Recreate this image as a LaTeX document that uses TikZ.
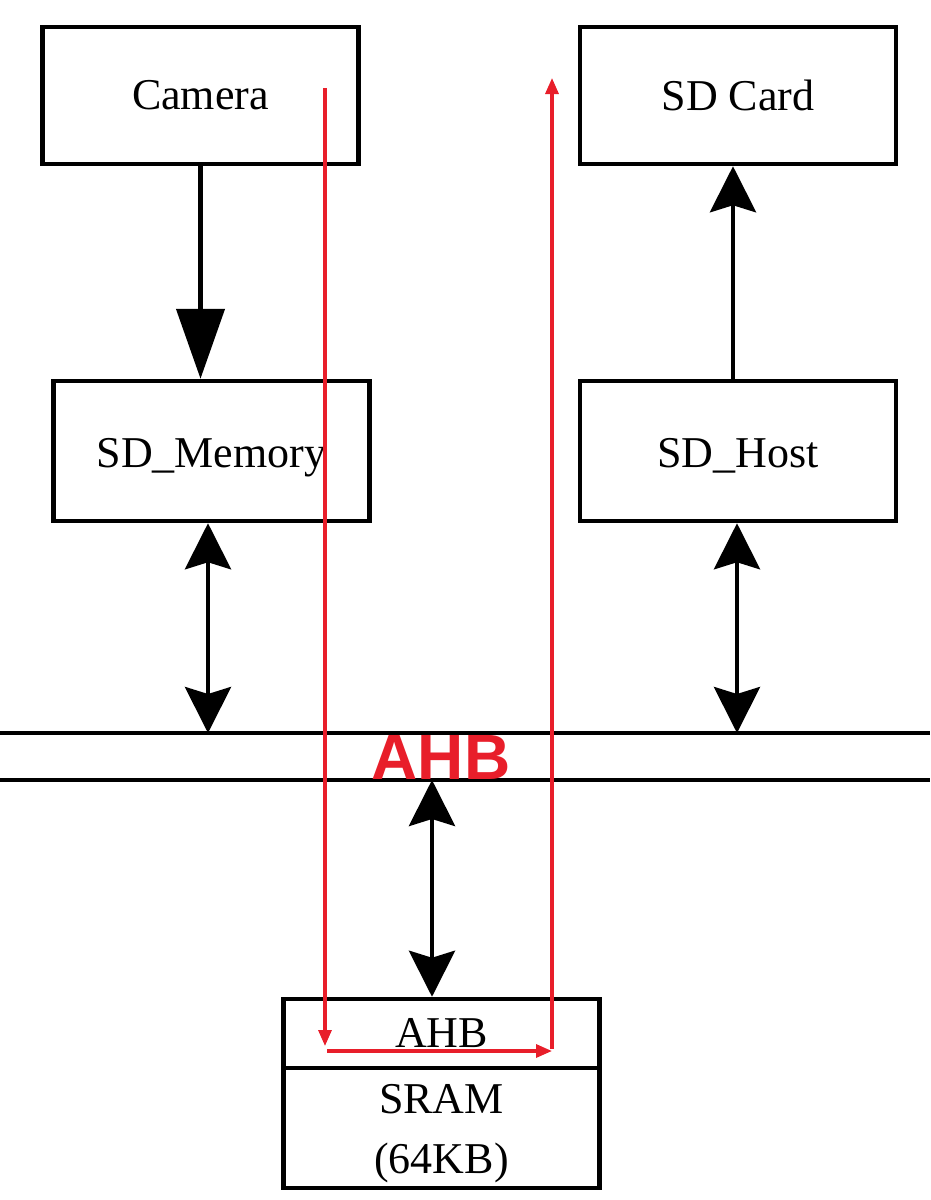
\documentclass[tikz,border=0pt]{standalone}
\usepackage{fontspec}
\setmainfont{Liberation Serif}
\newfontfamily\ahbfont{Liberation Sans}
\usetikzlibrary{arrows.meta}
\definecolor{ahbred}{RGB}{232,30,42}
\tikzset{
  blk/.style={draw=black, line width=4.5pt, minimum width=316pt, inner sep=0pt,
    font=\fontsize{44}{60}\selectfont, align=center},
  lbl/.style={inner sep=0pt, font=\fontsize{44}{60}\selectfont, align=center},
  conn/.style={line width=4.5pt, draw=black},
  bighead/.style={-{Triangle[length=70pt,width=48pt]}},
  headtip/.tip={Stealth[length=46pt,width=46pt,inset=7pt]},
  redpath/.style={draw=ahbred, line width=3.2pt, -{Triangle[length=16pt,width=13pt]}},
  busline/.style={line width=4.5pt, draw=black},
}
\begin{document}
\begin{tikzpicture}[x=1pt,y=-1pt]
\useasboundingbox (0,0) rectangle (930,1200);
% boxes
\node[blk, minimum height=137pt] (cam) at (200.5,95.5) {Camera};
\node[blk, minimum height=137pt] (sdc) at (738,95.5) {SD Card};
\node[blk, minimum height=140pt, text height=42pt, text depth=10pt] (sdm) at (211.5,451) {SD\_Memory};
\node[blk, minimum height=140pt, text height=42pt, text depth=10pt] (sdh) at (738,451) {SD\_Host};
\node[blk, minimum height=69pt] (sramtop) at (441.5,1033.5) {AHB};
\node[blk, minimum height=120pt] (sram) at (441.5,1128) {};
\node[lbl] (sramtxt) at (441.5,1134) {SRAM\\(64KB)};
% bus
\coordinate (bus1l) at (0,733);
\coordinate (bus1r) at (930,733);
\coordinate (bus2l) at (0,780);
\coordinate (bus2r) at (930,780);
\draw[busline] (bus1l) -- (bus1r);
\draw[busline] (bus2l) -- (bus2r);
\node[font=\ahbfont\bfseries\fontsize{64}{64}\selectfont, text=ahbred, inner sep=0pt] (ahb) at (441,757) {AHB};
% connectors
\draw[conn, bighead] (cam.south) -- (cam.south |- sdm.north);
\draw[conn, -headtip] (sdh.north -| 733,0) -- (sdc.south -| 733,0);
\draw[conn, headtip-headtip] (sdm.south -| 208,0) -- (bus1l -| 208,0);
\draw[conn, headtip-headtip] (sdh.south -| 737,0) -- (bus1l -| 737,0);
\draw[conn, headtip-headtip] (bus2l -| 432,0) -- (sramtop.north -| 432,0);
% red data path
\coordinate (r1) at (325,88);
\coordinate (r2) at (325,1046);
\coordinate (r3s) at (327,1051);
\coordinate (r3) at (552,1051);
\coordinate (r4s) at (552,1049);
\coordinate (r4) at (552,78);
\draw[redpath] (r1) -- (r2);
\draw[redpath] (r3s) -- (r3);
\draw[redpath] (r4s) -- (r4);
\end{tikzpicture}
\end{document}
